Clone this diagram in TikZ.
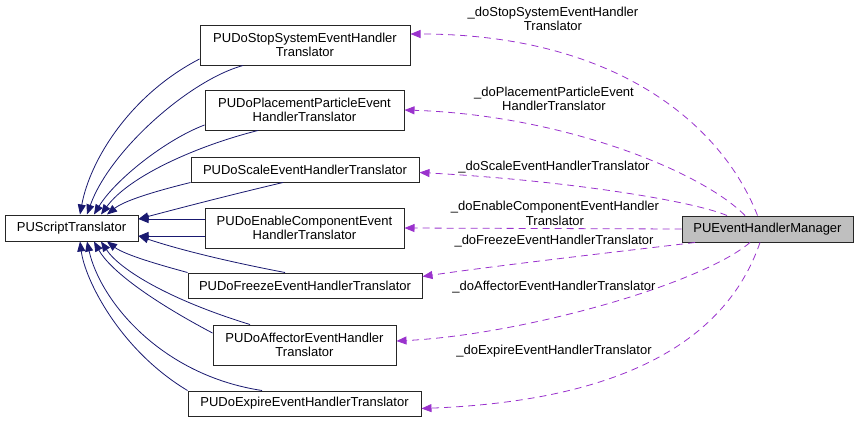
\documentclass[tikz,border=0pt]{standalone}
\usepackage{fontspec}
\setmainfont{Liberation Sans}
\usetikzlibrary{arrows.meta, positioning, calc}
\definecolor{inhblue}{HTML}{191970}
\definecolor{usepurple}{HTML}{9A32CD}

\begin{document}
\begin{tikzpicture}[x=1pt, y=-1pt, every node/.style={font=\fontsize{13}{14.5}\selectfont},
  cls/.style={draw=black!85, line width=1pt, inner sep=0pt, align=center, fill=white},
  derive/.style={inhblue, line width=0.8pt, -{Triangle[length=10pt,width=8pt]}},
  member/.style={usepurple, line width=0.8pt, dash pattern=on 7pt off 5pt, -{Triangle[length=10pt,width=8pt]}},
  lbl/.style={align=center, inner sep=0pt}]
\useasboundingbox (0,0) rectangle (859,423);
% classes
\node[cls, minimum width=133pt, minimum height=26pt] (base) at (71.5,228) {PUScriptTranslator};
\node[cls, minimum width=210pt, minimum height=40pt] (stop) at (305,45) {PUDoStopSystemEventHandler\\Translator};
\node[cls, minimum width=199pt, minimum height=40pt] (place) at (304.5,110) {PUDoPlacementParticleEvent\\HandlerTranslator};
\node[cls, minimum width=228pt, minimum height=25pt] (scale) at (305,169.5) {PUDoScaleEventHandlerTranslator};
\node[cls, minimum width=199pt, minimum height=40pt] (enable) at (304.5,228) {PUDoEnableComponentEvent\\HandlerTranslator};
\node[cls, minimum width=234pt, minimum height=25pt] (freeze) at (305,285.5) {PUDoFreezeEventHandlerTranslator};
\node[cls, minimum width=183pt, minimum height=40pt] (affector) at (304.5,345) {PUDoAffectorEventHandler\\Translator};
\node[cls, minimum width=233pt, minimum height=25pt] (expire) at (304.5,403.5) {PUDoExpireEventHandlerTranslator};
\node[cls, fill=gray!50, minimum width=171pt, minimum height=26pt] (manager) at (767.5,229) {PUEventHandlerManager};
% inheritance
\draw[derive] ($(stop.west)+(0,14)$) .. controls (130,95) and (90,160) .. ($(base.north)+(8.5,0)$);
\draw[derive] ($(stop.south)+(-62,0)$) .. controls (190,80) and (110,150) .. ($(base.north)+(15.5,0)$);
\draw[derive] ($(place.west)+(0,15)$) .. controls (165,140) and (115,180) .. ($(base.north)+(22.5,0)$);
\draw[derive] ($(place.south)+(-46.5,0)$) .. controls (200,145) and (130,175) .. ($(base.north)+(29.5,0)$);
\draw[derive] (scale.south west) .. controls (160,190) and (125,200) .. ($(base.north)+(35.5,0)$);
\draw[derive] ($(scale.south)+(-22,0)$) .. controls (230,195) and (180,208) .. ($(base.east)+(0,-9)$);
\draw[derive] ($(enable.west)+(0,-9)$) -- ($(base.east)+(0,-9)$);
\draw[derive] ($(enable.west)+(0,8)$) -- ($(base.east)+(0,8)$);
\draw[derive] ($(freeze.north)+(-20,0)$) .. controls (230,262) and (180,250) .. ($(base.east)+(0,8)$);
\draw[derive] (freeze.north west) .. controls (160,265) and (125,255) .. ($(base.south)+(35.5,0)$);
\draw[derive] ($(affector.north)+(-54.5,0)$) .. controls (170,300) and (120,270) .. ($(base.south)+(29.5,0)$);
\draw[derive] ($(affector.west)+(0,-12)$) .. controls (150,300) and (110,270) .. ($(base.south)+(22.5,0)$);
\draw[derive] ($(expire.north)+(-42.5,0)$) .. controls (160,375) and (100,300) .. ($(base.south)+(15.5,0)$);
\draw[derive] (expire.north west) .. controls (120,350) and (85,280) .. ($(base.south)+(8.5,0)$);
% members
\draw[member] ($(manager.north)+(-10,0)$) .. controls (720,120) and (610,34) .. ($(stop.east)+(0,-11)$);
\draw[member] ($(manager.north)+(-22.5,0)$) .. controls (700,170) and (560,115) .. (place.east);
\draw[member] ($(manager.north)+(-40.5,0)$) .. controls (690,200) and (560,180) .. ($(scale.east)+(0,3)$);
\draw[member] (manager.west) -- (enable.east);
\draw[member] ($(manager.south)+(-72.5,0)$) .. controls (650,248) and (500,265) .. ($(freeze.east)+(0,-9)$);
\draw[member] ($(manager.south)+(-17.5,0)$) .. controls (700,285) and (520,335) .. ($(affector.east)+(0,-4)$);
\draw[member] ($(manager.south)+(-7.5,0)$) .. controls (730,330) and (640,400) .. ($(expire.east)+(0,5)$);
\node[lbl] (lStop) at (553,19) {\_doStopSystemEventHandler\\Translator};
\node[lbl] (lPlace) at (554,99) {\_doPlacementParticleEvent\\HandlerTranslator};
\node[lbl] (lScale) at (554,167) {\_doScaleEventHandlerTranslator};
\node[lbl] (lEnable) at (555,213.5) {\_doEnableComponentEventHandler\\Translator};
\node[lbl] (lFreeze) at (554,241) {\_doFreezeEventHandlerTranslator};
\node[lbl] (lAffector) at (554,287) {\_doAffectorEventHandlerTranslator};
\node[lbl] (lExpire) at (554,351) {\_doExpireEventHandlerTranslator};
\end{tikzpicture}
\end{document}
